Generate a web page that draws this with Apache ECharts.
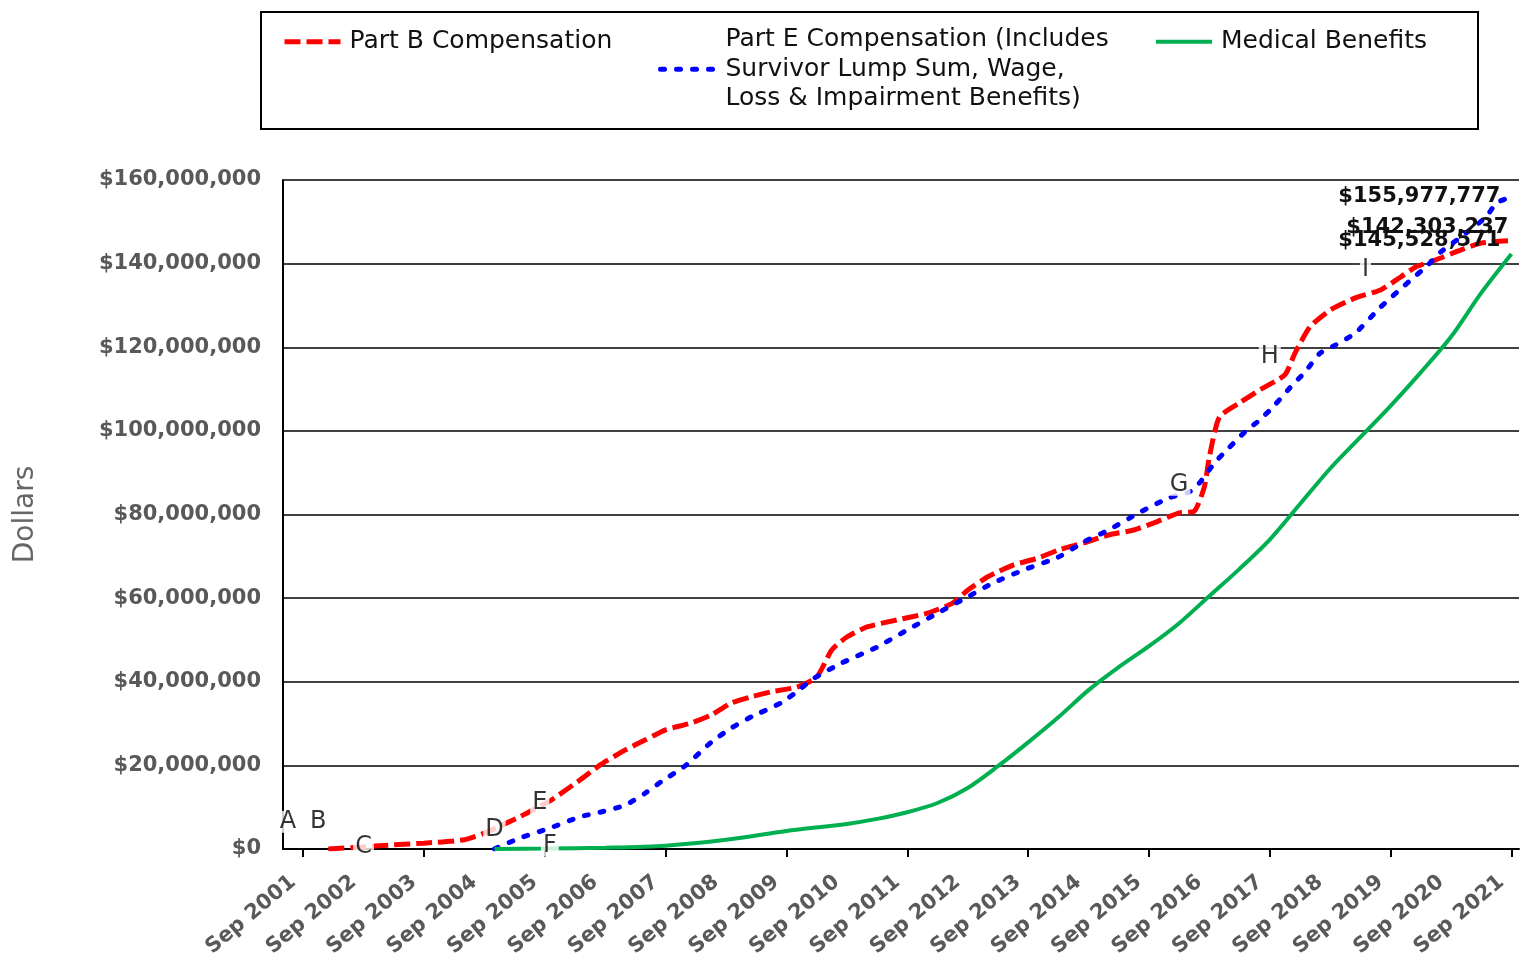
<!DOCTYPE html>
<html>
<head>
<meta charset="utf-8">
<title>Cumulative Compensation and Medical Benefits</title>
<script src="https://cdn.jsdelivr.net/npm/echarts@6/dist/echarts.min.js"></script>
<style>
  html, body { margin: 0; padding: 0; background: #fff; }
  #chart { width: 1522px; height: 965px; }
</style>
</head>
<body>
<div id="chart"></div>
<script>
// Cumulative payments in millions of dollars, keyed by month (YYYY-MM).
const partBMonths = ['2002-02','2002-09','2003-03','2003-09','2004-05','2004-09','2005-04','2005-10','2006-04','2006-08',
  '2007-01','2007-05','2007-09','2008-02','2008-06','2008-10','2009-02','2009-06','2009-11','2010-03',
  '2010-06','2010-09','2011-01','2011-07','2012-01','2012-06','2012-09','2013-01','2013-06','2013-11',
  '2014-03','2014-08','2015-01','2015-06','2015-10','2016-03','2016-06','2016-08','2016-09','2016-11',
  '2017-03','2017-07','2017-12','2018-02','2018-05','2018-09','2019-02','2019-07','2019-11','2020-02',
  '2020-06','2020-11','2021-03','2021-09'];
const partBValues = [0, 0.5, 1.0, 1.4, 2.2, 3.8, 7.7, 11.5, 16.5, 20.1,
  23.7, 26.1, 28.5, 30.1, 32.0, 34.9, 36.4, 37.6, 38.7, 41.1,
  47.6, 50.7, 53.1, 54.8, 56.4, 58.8, 61.9, 65.1, 67.9, 69.6,
  71.5, 73.2, 75.1, 76.3, 78.0, 80.4, 80.8, 86.6, 93.8, 103.3,
  106.7, 109.8, 113.4, 118.6, 124.9, 128.9, 131.8, 133.7, 136.8, 139.2,
  140.9, 143.3, 144.9, 145.528571];

const partEMonths = ['2004-11','2005-04','2005-10','2006-04','2006-08','2007-01','2007-05','2007-08','2008-01','2008-06',
  '2008-10','2009-02','2009-08','2009-12','2010-02','2010-08','2011-03','2011-09','2012-03','2012-09',
  '2013-02','2013-08','2014-03','2014-08','2015-01','2015-07','2016-01','2016-05','2016-07','2016-10',
  '2017-01','2017-04','2017-07','2017-10','2018-01','2018-04','2018-07','2018-10','2019-02','2019-07',
  '2020-01','2020-04','2020-07','2020-11','2021-04','2021-06','2021-09'];
const partEValues = [0, 2.6, 5.0, 7.7, 8.8, 10.5, 13.4, 16.0, 20.0, 25.5,
  28.9, 31.6, 35.0, 38.5, 40.5, 44.5, 48.3, 52.4, 56.4, 60.3,
  63.6, 66.7, 69.8, 73.4, 76.3, 80.4, 84.0, 85.4, 87.5, 92.3,
  96.1, 99.7, 102.6, 106.2, 110.3, 114.1, 118.6, 120.5, 123.4, 129.6,
  136.1, 139.2, 142.8, 146.4, 151.2, 154.5, 155.977777];

const medicalMonths = ['2004-11','2005-09','2006-09','2007-09','2008-09','2009-09','2010-09','2011-03','2011-09','2012-03',
  '2012-09','2013-03','2013-09','2014-03','2014-09','2015-03','2015-09','2016-03','2016-09','2017-03',
  '2017-09','2018-03','2018-09','2019-03','2019-09','2020-03','2020-09','2021-03','2021-09'];
const medicalValues = [0, 0.1, 0.3, 0.8, 2.2, 4.3, 6.0, 7.2, 8.8, 11.0,
  14.6, 19.8, 25.5, 31.5, 38.0, 43.5, 48.5, 54.0, 60.5, 67.0,
  74.0, 82.5, 91.0, 98.5, 106.0, 114.0, 122.5, 133.0, 142.303237];

// Lettered event markers (month, millions of dollars).
const markerLetters = ['A','B','C','D','E','F','G','H','I'];
const markerMonths = ['2001-06','2001-12','2002-09','2004-11','2005-08','2005-10','2016-03','2017-09','2019-04'];
const markerValues = [6.5, 6.5, 0.5, 4.5, 11.0, 0.8, 87.1, 117.7, 138.5];

// Axis ticks: labels every September, tick marks every other September.
const yearLabels = [2001,2002,2003,2004,2005,2006,2007,2008,2009,2010,2011,2012,2013,2014,2015,2016,2017,2018,2019,2020,2021];
const tickYears = [2001,2003,2005,2007,2009,2011,2013,2015,2017,2019,2021];

const seriesNames = [
  'Part B Compensation',
  'Part E Compensation (Includes\nSurvivor Lump Sum, Wage,\nLoss & Impairment Benefits)',
  'Medical Benefits'
];

// Months counted from September 2001.
function monthIndex(s) {
  const [y, m] = s.split('-').map(Number);
  return (y - 2001) * 12 + (m - 9);
}
function dollars(mil) { return Math.round(mil * 1e6); }
function money(v) { return '$' + Math.round(v).toLocaleString('en-US'); }
function points(months, values) {
  return values.map((v, i) => [monthIndex(months[i]), dollars(v)]);
}

const FONT = 'DejaVu Sans';
const RED = '#ff0000', BLUE = '#0000ff', GREEN = '#00b050';
const partBLine = { color: RED, width: 5, type: [16, 6], cap: 'butt' };
const partELine = { color: BLUE, width: 5, type: [4, 12], cap: 'round' };
const medicalLine = { color: GREEN, width: 4, type: 'solid' };

function endLabel(dx, dy) {
  return {
    show: true,
    formatter: p => money(p.value[1]),
    align: 'right',
    verticalAlign: 'middle',
    distance: 0,
    offset: [dx, dy],
    fontFamily: FONT, fontWeight: 'bold', fontSize: 21, color: '#111'
  };
}

const chart = echarts.init(document.getElementById('chart'), null, { renderer: 'canvas' });

const legendText = { fontFamily: FONT, fontSize: 25, color: '#111', lineHeight: 29.5, padding: [0, 0, 0, 4] };
function legendBox(name, left, top, line) {
  return {
    data: [name], left: left, top: top,
    padding: 0,
    itemWidth: 56, itemHeight: 14,
    itemStyle: { opacity: 0 },
    lineStyle: line,
    textStyle: legendText
  };
}

chart.setOption({
  animation: false,
  backgroundColor: '#fff',
  grid: { left: 283, right: 3, top: 180, bottom: 116, containLabel: false, outerBoundsMode: 'none' },
  legend: [
    legendBox(seriesNames[0], 282, 27, partBLine),
    legendBox(seriesNames[1], 658, 25, partELine),
    legendBox(seriesNames[2], 1154, 27, medicalLine)
  ],
  graphic: [{
    type: 'rect',
    shape: { x: 261, y: 12, width: 1217, height: 117 },
    style: { fill: 'none', stroke: '#000', lineWidth: 2 },
    silent: true
  }],
  xAxis: {
    type: 'value',
    min: -4,
    max: 241.5,
    splitLine: { show: false },
    axisLine: { show: true, onZero: false, lineStyle: { color: '#000', width: 2 } },
    axisTick: {
      show: true,
      customValues: tickYears.map(y => (y - 2001) * 12),
      length: 8,
      lineStyle: { color: '#000', width: 2 }
    },
    axisLabel: {
      customValues: yearLabels.map(y => (y - 2001) * 12),
      formatter: v => 'Sep ' + (2001 + Math.round(v / 12)),
      rotate: 40,
      margin: 22,
      padding: [0, 13, 0, 0],
      fontFamily: FONT, fontWeight: 'bold', fontSize: 21, color: '#595959'
    }
  },
  yAxis: {
    type: 'value',
    min: 0,
    max: 160000000,
    interval: 20000000,
    name: 'Dollars',
    nameLocation: 'middle',
    nameGap: 243,
    nameTextStyle: { fontFamily: FONT, fontSize: 28, color: '#666' },
    axisLine: { show: true, onZero: false, lineStyle: { color: '#000', width: 2 } },
    axisTick: { show: false },
    splitLine: { show: true, lineStyle: { color: '#000', width: 1.5 } },
    axisLabel: {
      formatter: v => money(v),
      margin: 22,
      fontFamily: FONT, fontWeight: 'bold', fontSize: 21, color: '#595959'
    }
  },
  series: [
    {
      name: seriesNames[0],
      type: 'line',
      symbol: 'none',
      smooth: 0.2,
      lineStyle: partBLine,
      itemStyle: { color: RED },
      endLabel: endLabel(-11, 0),
      data: points(partBMonths, partBValues),
      z: 2
    },
    {
      name: seriesNames[1],
      type: 'line',
      symbol: 'none',
      smooth: 0.2,
      lineStyle: partELine,
      itemStyle: { color: BLUE },
      endLabel: endLabel(-11, 0),
      data: points(partEMonths, partEValues),
      z: 3
    },
    {
      name: seriesNames[2],
      type: 'line',
      symbol: 'none',
      smooth: 0.3,
      lineStyle: medicalLine,
      itemStyle: { color: GREEN },
      endLabel: endLabel(-3, -26),
      data: points(medicalMonths, medicalValues),
      z: 4
    },
    {
      name: 'markers',
      type: 'scatter',
      symbolSize: 0,
      itemStyle: { color: '#000' },
      silent: true,
      label: {
        show: true,
        position: 'inside',
        formatter: '{b}',
        backgroundColor: '#fff',
        padding: [0, 2],
        lineHeight: 22,
        fontFamily: FONT, fontSize: 24, color: '#000'
      },
      data: markerLetters.map((l, i) => ({
        name: l,
        value: [monthIndex(markerMonths[i]), dollars(markerValues[i])]
      })),
      z: 10
    }
  ]
});
</script>
</body>
</html>
